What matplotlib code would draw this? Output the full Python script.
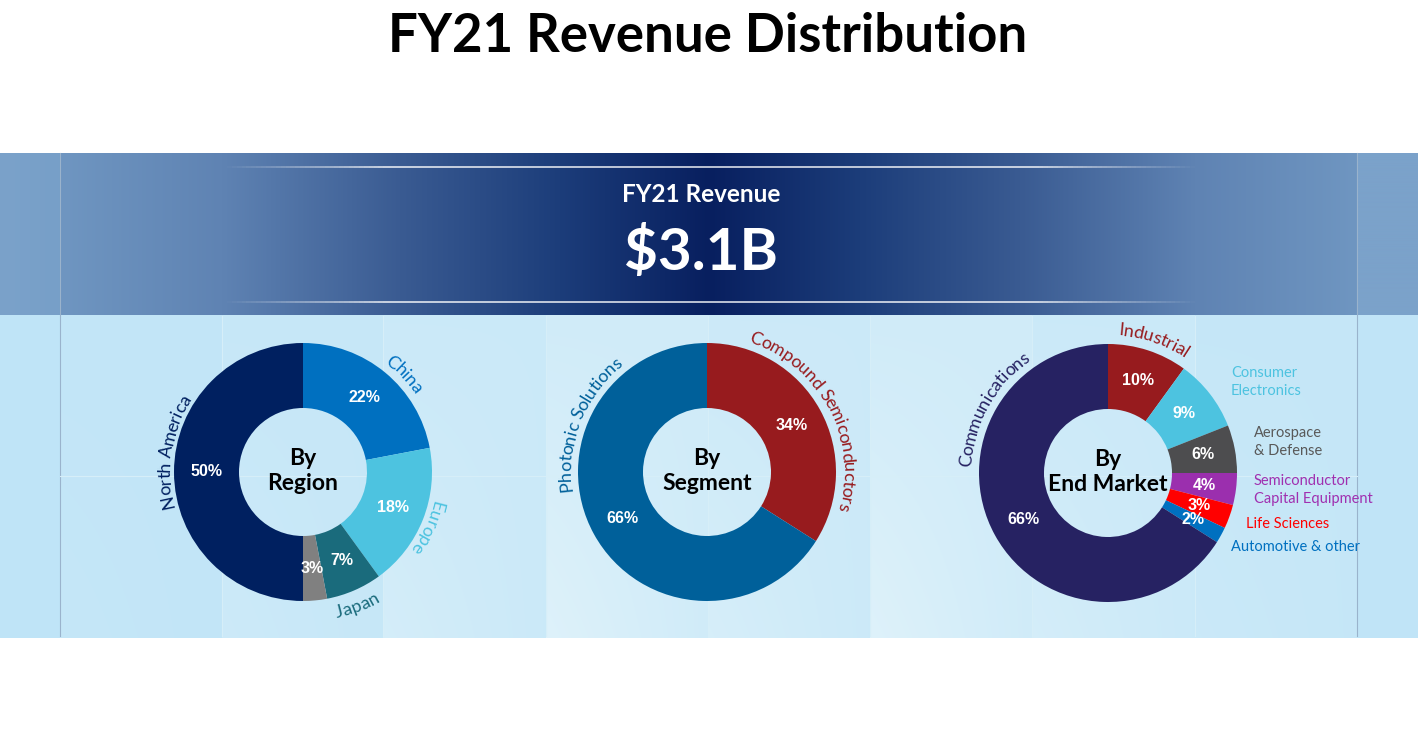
import numpy as np
import matplotlib
matplotlib.use("Agg")
import matplotlib.pyplot as plt
from matplotlib.font_manager import FontProperties
from matplotlib.collections import LineCollection

# ---------------- data ----------------
title = "FY21 Revenue Distribution"
banner_label = "FY21 Revenue"
banner_value = "$3.1B"

region_labels = ["China", "Europe", "Japan", "Other", "North America"]
region_values = [22, 18, 7, 3, 50]
region_colors = ["#0070c0", "#4dc3e0", "#1a6b7c", "#808080", "#002060"]

segment_labels = ["Compound Semiconductors", "Photonic Solutions"]
segment_values = [34, 66]
segment_colors = ["#971b1e", "#00609a"]

market_labels = ["Industrial", "Consumer\nElectronics", "Aerospace\n& Defense",
                 "Semiconductor\nCapital Equipment", "Life Sciences",
                 "Automotive & other", "Communications"]
market_values = [10, 9, 6, 4, 3, 2, 66]
market_colors = ["#971b1e", "#4dc3e0", "#4d4d4f", "#9b2fae", "#ff0000",
                 "#0070c0", "#262262"]

W, H = 1418, 739
fig = plt.figure(figsize=(W / 100, H / 100), dpi=100)
ax = fig.add_axes([0, 0, 1, 1])
ax.set_xlim(0, W)
ax.set_ylim(0, H)
ax.axis("off")


def Y(y):
    return H - y


def hex2rgb(h):
    h = h.lstrip("#")
    return np.array([int(h[i:i + 2], 16) for i in (0, 2, 4)]) / 255.0


# ---------------- banner background ----------------
xs = np.arange(W)
stops_x = [0, 59, 61, 222, 400, 560, 709, 860, 1020, 1195, 1356, 1358, W - 1]
stops_c = ["#7ba2ca", "#779fc8", "#6f96c1", "#5f83b3", "#3a5b92", "#1c3d7a",
           "#081f5f", "#1c3d7a", "#3a5b92", "#5f83b3", "#6f96c1", "#7ba2ca", "#7ba2ca"]
cols = np.array([hex2rgb(c) for c in stops_c])
prof = np.stack([np.interp(xs, stops_x, cols[:, k]) for k in range(3)], axis=1)
banner = np.repeat(prof[None, :, :], 2, axis=0)
ax.imshow(banner, extent=(0, W, Y(315), Y(153)), aspect="auto", zorder=0,
          interpolation="bilinear")

# thin light lines in banner
for yy in (167, 302):
    segx = np.linspace(222, 1195, 200)
    pts = np.array([[segx[i], Y(yy)] for i in range(len(segx))])
    segs = [pts[i:i + 2] for i in range(len(pts) - 1)]
    t = (segx[:-1] - 222) / (1195 - 222)
    alpha = np.clip(np.minimum(t, 1 - t) * 6, 0, 1) * 0.85
    lc = LineCollection(segs, colors=[(1, 1, 1, a) for a in alpha], linewidths=1.2,
                        zorder=1)
    ax.add_collection(lc)

# ---------------- lower panel background ----------------
gh, gw = 323, W
yy_, xx_ = np.mgrid[0:gh, 0:gw]
base = hex2rgb("#bfe4f7")
light = hex2rgb("#e6f5fb")
tiles = [0, 60, 222, 383, 546, 708, 870, 1032, 1195, 1357, W]
f = np.zeros((gh, gw))
tile_strength = [0.0, 0.15, 0.35, 0.55, 0.8, 0.6, 0.8, 0.55, 0.3, 0.05]
for i in range(len(tiles) - 1):
    a, b = tiles[i], tiles[i + 1]
    u = (xx_[:, a:b] - a) / max(b - a, 1)
    v = yy_[:, a:b] / gh
    f[:, a:b] = tile_strength[i] * (0.55 + 0.45 * (1 - u) * v)
img = base[None, None, :] * (1 - f[..., None]) + light[None, None, :] * f[..., None]
ax.imshow(img, extent=(0, W, Y(638), Y(315)), aspect="auto", zorder=0)
for xv in (60, 1357):
    ax.plot([xv, xv], [Y(153), Y(636)], color="#9ab3cc", lw=0.8, zorder=0.5)
for xv in (222, 383, 546, 708, 870, 1032, 1195):
    ax.plot([xv, xv], [Y(316), Y(636)], color="#d6eef8", lw=0.8, zorder=0.5)
ax.plot([60, 1357], [Y(476), Y(476)], color="#d6eef8", lw=0.8, zorder=0.5)

# ---------------- titles ----------------
ax.text(708, Y(37), title, ha="center", va="center", fontsize=38,
        fontweight="bold", family="Lato", color="black")
ax.text(701, Y(195), banner_label, ha="center", va="center", fontsize=17.5,
        fontweight="bold", family="Lato", color="white", zorder=3)
ax.text(701, Y(253), banner_value, ha="center", va="center", fontsize=42,
        fontweight="bold", family="Lato", color="white", zorder=3)

# ---------------- donuts ----------------
R_OUT = 129
RING = 65
centers = [(303, 472), (707, 472), (1108, 473)]
pct_props = dict(color="white", fontweight="bold", fontsize=11.5,
                 family="Liberation Sans")

for (cx, cy), vals, colors in zip(centers,
                                  [region_values, segment_values, market_values],
                                  [region_colors, segment_colors, market_colors]):
    ax.pie(vals, colors=colors, startangle=90, counterclock=False,
           radius=R_OUT, center=(cx, Y(cy)),
           wedgeprops=dict(width=RING, linewidth=0),
           autopct=lambda p: f"{p:.0f}%", pctdistance=0.75,
           textprops=pct_props)

ax.set_xlim(0, W)
ax.set_ylim(0, H)
ax.set_aspect("auto")
ax.axis("off")

center_texts = ["By\nRegion", "By\nSegment", "By\nEnd Market"]
for (cx, cy), t in zip(centers, center_texts):
    ax.text(cx, Y(cy - 1), t, ha="center", va="center", fontsize=16.5,
            fontweight="bold", family="Lato", color="black",
            linespacing=1.25, zorder=4)

# ---------------- curved labels ----------------
renderer = fig.canvas.get_renderer()


def text_w(s, prop):
    if not s:
        return 0.0
    return renderer.get_text_width_height_descent(s, prop, ismath=False)[0]


def arc_text(s, cx, cy, r, ang, color, size=13, clockwise=True):
    prop = FontProperties(family="Lato", size=size)
    fs_px = size * 100 / 72
    total = text_w(s, prop)
    r_mid = r + 0.33 * fs_px if clockwise else r - 0.33 * fs_px
    for i, ch in enumerate(s):
        if ch == " ":
            continue
        c = text_w(s[:i + 1], prop) - text_w(ch, prop) / 2
        off = c - total / 2
        if clockwise:
            th = np.radians(ang) - off / r_mid
            rot = np.degrees(th) - 90
        else:
            th = np.radians(ang) + off / r_mid
            rot = np.degrees(th) + 90
        ax.text(cx + r * np.cos(th), Y(cy) + r * np.sin(th), ch,
                fontproperties=prop, color=color, ha="center", va="baseline",
                rotation=rot, rotation_mode="anchor", zorder=4)


cx, cy = centers[0]
arc_text("North America", cx, cy, 133, 171, "#002060")
arc_text("China", cx, cy, 136, 44, "#0070c0")
arc_text("Europe", cx, cy, 132, -24, "#4dc3e0")
arc_text("Japan", cx, cy, 150, -68, "#1a6b7c", clockwise=False)

cx, cy = centers[1]
arc_text("Photonic Solutions", cx, cy, 136, 158, "#00609a")
arc_text("Compound Semiconductors", cx, cy, 136, 28, "#971b1e")

cx, cy = centers[2]
arc_text("Communications", cx, cy, 137, 151, "#262262")
arc_text("Industrial", cx, cy, 138, 71, "#971b1e")

# right side labels for end market
side = [(1231, 382, market_labels[1], "#4dc3e0"),
        (1254, 442, market_labels[2], "#595959"),
        (1254, 490, market_labels[3], "#a030b0"),
        (1246, 524, market_labels[4], "#ff0000"),
        (1231, 547, market_labels[5], "#0070c0")]
for x, y, t, c in side:
    ax.text(x, Y(y), t, ha="left", va="center", fontsize=10.5, family="Lato",
            color=c, linespacing=1.35, zorder=4)

fig.savefig("out.png", dpi=100)
